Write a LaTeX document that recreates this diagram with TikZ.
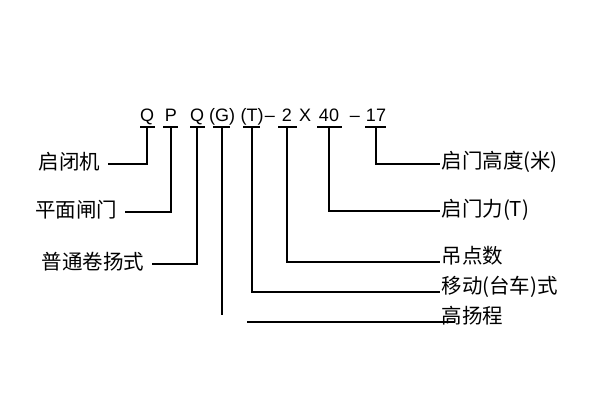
\documentclass[tikz,border=0pt]{standalone}
\usepackage{fontspec}
\setmainfont{Liberation Sans}
\newfontfamily\cjk{Noto Sans CJK SC}
\begin{document}
\begin{tikzpicture}[x=1pt,y=-1pt,line width=1.1pt,
  code/.style={font=\fontsize{18}{18}\selectfont,inner sep=0pt,anchor=base},
  lab/.style={font=\cjk\fontsize{20.5}{20.5}\selectfont,inner sep=1pt},
  rl/.style={lab,anchor=west},ll/.style={lab,anchor=east}]
\useasboundingbox[fill=white] (0,0) rectangle (600,400);
% code characters
\node[code] (c1) at (147,121) {Q};
\node[code] (c2) at (171,121) {P};
\node[code] (c3) at (197,121) {Q};
\node[code] (c4) at (222,121) {(G)};
\node[code] (c5) at (252,121) {(T)};
\node[code] (d1) at (270,121) {–};
\node[code] (c6) at (287,121) {2};
\node[code] (x1) at (305,121) {X};
\node[code] (c7) at (329,121) {40};
\node[code] (d2) at (355,121) {–};
\node[code] (c8) at (376,121) {17};
% underlines
\foreach \n/\a/\b in {u1/140/155,u2/163/178,u3/190/205,u4/213/230,u5/243/260,u6/278/297,u7/317/342,u8/365/386}
  \draw (\a,127) -- (\b,127) coordinate (\n);
% labels
\node[ll] (l1) at (102,162) {启闭机};
\node[ll] (l2) at (119,210) {平面闸门};
\node[ll] (l3) at (146,262) {普通卷扬式};
\node[rl] (r1) at (440,162) {启门高度(米)};
\node[rl] (r2) at (440,210) {启门力(T)};
\node[rl] (r3) at (440,256) {吊点数};
\node[rl] (r4) at (440,287) {移动(台车)式};
\node[rl] (r5) at (440,316) {高扬程};
% connectors
\draw (l1.east) ++(6,2) -- (147,164) -- (147,127);
\draw (l2.east) ++(6,2) -- (171,212) -- (171,127);
\draw (l3.east) ++(6,2) -- (197,264) -- (197,127);
\draw (222,127) -- (222,315);
\draw (252,127) -- (252,292) -- (r4.west|-0,292);
\draw (287,127) -- (287,262) -- (r3.west|-0,262);
\draw (329,127) -- (329,211) -- (r2.west|-0,211);
\draw (376,127) -- (376,164) -- (r1.west|-0,164);
\draw (247,322) -- (455,322);
\end{tikzpicture}
\end{document}
